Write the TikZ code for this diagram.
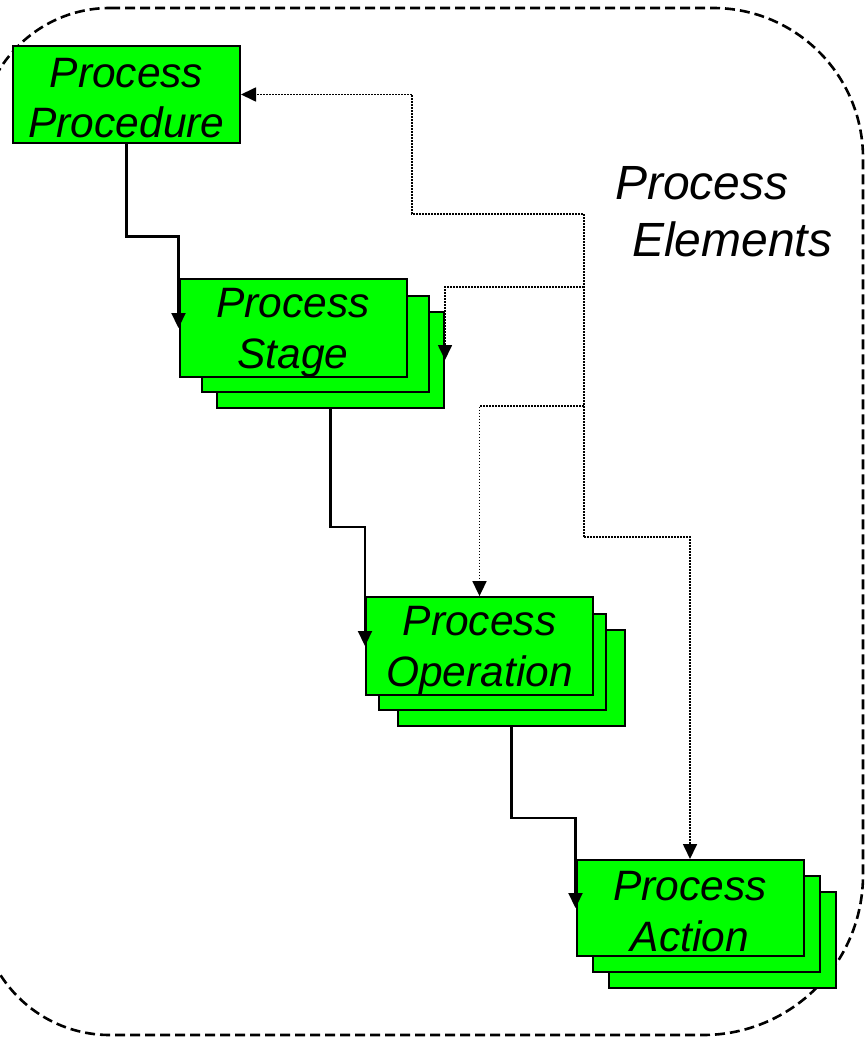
\documentclass[tikz,border=0pt]{standalone}
\usepackage{fontspec}
\setmainfont{Liberation Sans}
\usetikzlibrary{arrows.meta}
\definecolor{boxgreen}{RGB}{0,255,0}
% strut that fixes the vertical placement of the two text lines
\newcommand{\lnstrut}{\rule[-2pt]{0pt}{40pt}}
\begin{document}
\begin{tikzpicture}[x=1pt,y=-1pt,
  element/.style={draw=black,line width=2pt,fill=boxgreen,inner sep=0pt,
    minimum width=227pt,minimum height=96pt,align=center,
    font=\fontsize{42.5}{51}\selectfont\itshape},
  copybox/.style={draw=black,line width=2pt,fill=boxgreen,inner sep=0pt,
    minimum width=227pt,minimum height=96pt},
  flow/.style={draw=black,line width=2.2pt,-{Triangle[width=14pt,length=15pt]}},
  link/.style={draw=black,line width=1.7pt,dash pattern=on 1.7pt off 1.3pt,
    -{Triangle[width=14pt,length=15pt]}},
  border/.style={draw=black,line width=2.6pt,dash pattern=on 10pt off 5pt}]
\useasboundingbox (0,0) rectangle (865,1038);

% enclosing dashed boundary
\draw[border] (110,8) -- (713,8)
  arc[start angle=-90,end angle=0,radius=150] -- (863,875)
  arc[start angle=0,end angle=90,radius=160] -- (110,1035)
  arc[start angle=90,end angle=180,radius=130] -- (-20,138)
  arc[start angle=180,end angle=270,radius=130] -- cycle;

% procedure
\node[element] (proc) at (126.5,94.5) {\lnstrut Process\\Procedure\lnstrut};

% stages
\node[copybox] (stage3) at (330.5,360) {};
\node[copybox] (stage2) at (315,344) {};
\node[element] (stage) at (293,328) {\lnstrut Process\\Stage\lnstrut};

% operations
\node[copybox] (op3) at (511.5,678) {};
\node[copybox] (op2) at (492.5,661.5) {};
\node[element] (op) at (479.5,646) {\lnstrut Process\\Operation\lnstrut};

% actions
\node[copybox] (act3) at (722.5,940) {};
\node[copybox] (act2) at (706,924) {};
\node[element] (act) at (690,908) {\lnstrut Process\\Action\lnstrut};

% label
\node[anchor=north west,inner sep=0pt,align=left,
  font=\fontsize{48}{57}\selectfont\itshape] (lbl) at (615,166)
  {Process\\\hspace*{17pt}Elements};

% decomposition chain
\draw[flow] (proc.south) -- ++(0,93) -| (stage.west);
\draw[flow] (stage3.south) -- ++(0,118) -| (op.west);
\draw[flow] (op3.south) -- ++(0,91) -| (act.west);

% element links
\coordinate (t1) at (584,214);
\coordinate (t2) at (584,287);
\coordinate (t3) at (584,406);
\coordinate (t4) at (584,537);
\draw[link] (t4) -- (t1) -- ++(-172,0) |- (proc.east);
\draw[link] (t2) -| (stage3.east);
\draw[link] (t3) -| (op.north);
\draw[link] (t4) -| (act.north);
\end{tikzpicture}
\end{document}
